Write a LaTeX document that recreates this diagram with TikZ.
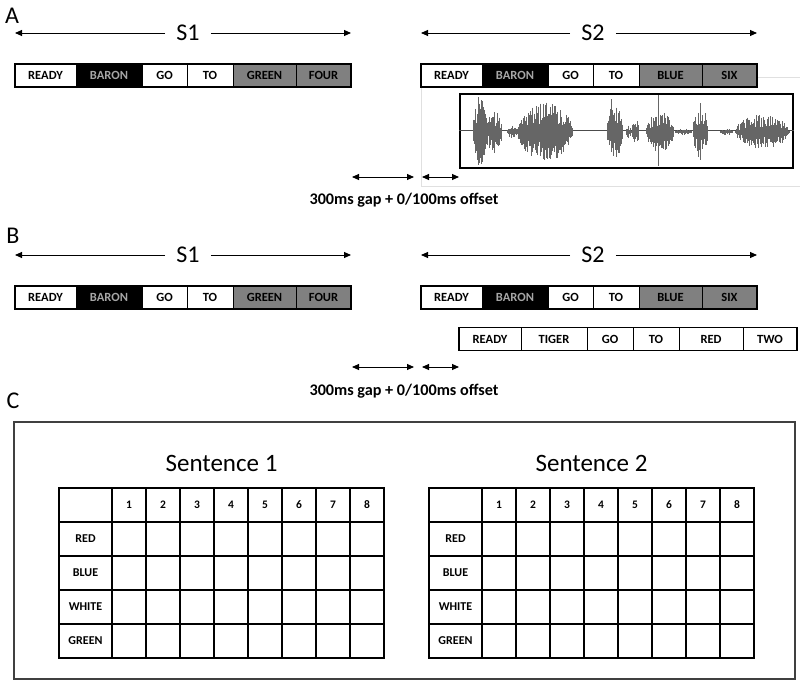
\documentclass[tikz,border=0pt]{standalone}
\usepackage{fontspec}
\setmainfont{Carlito}
\usetikzlibrary{positioning,arrows.meta}

% one row of word boxes: name, left x, centre y, list word/width/fill/text colour
\newcommand\wordrow[4]{%
  \coordinate (#1-0) at (#2,#3);
  \foreach \wtxt/\ww/\fcol/\tcol [count=\i, remember=\i as \j (initially 0)] in {#4}
    \node[word, fill=\fcol, text=\tcol, minimum width=\ww pt, right=0pt of #1-\j] (#1-\i) {\wtxt};
  \draw[rowframe] (#1-1.north west) rectangle (#1-6.south east);
}

% response grid: name, left x, title
\newcommand\gridtable[3]{%
  \node[title] (#1-title) at (#2+162.5,463) {#3};
  \foreach \k in {0,...,5}
    \draw[gridline] (#2,488+34*\k) -- (#2+325,488+34*\k);
  \draw[gridline] (#2,488) -- (#2,658);
  \foreach \k in {0,...,8}
    \draw[gridline] (#2+53+34*\k,488) -- (#2+53+34*\k,658);
  \foreach \n in {1,...,8}
    \node[numlab] (#1-c\n) at (#2+36+34*\n,505) {\n};
  \foreach \r [count=\i] in {RED,BLUE,WHITE,GREEN}
    \node[rowlab] (#1-r\i) at (#2+26.5,505+34*\i) {\r};
}

% one burst of the waveform: start x, end x, amplitude
\newcommand\burst[3]{%
  \pgfmathsetmacro\xnext{#1+0.7}%
  \foreach \x in {#1,\xnext,...,#2} {%
    \pgfmathsetmacro\wenv{#3*sqrt(max(sin(180*(\x-#1)/(#2-#1)),0))}%
    \pgfmathsetmacro\hup{\wenv*(0.3+0.8*rnd)}%
    \pgfmathsetmacro\hdn{\wenv*(0.3+0.8*rnd)}%
    \draw[wave] (\x,132-\hup) -- (\x,132+\hdn);
  }}

\begin{document}
\begin{tikzpicture}[x=1pt, y=-1pt,
  word/.style={draw, line width=0.9pt, minimum height=23pt, inner sep=0pt, outer sep=0pt,
    font=\fontsize{12.5}{13}\selectfont\bfseries},
  rowframe/.style={draw, line width=1.5pt},
  slabel/.style={inner xsep=11pt, font=\fontsize{24}{28}\selectfont},
  panellab/.style={font=\fontsize{24}{28}\selectfont},
  gaptext/.style={font=\fontsize{16.2}{19}\selectfont\bfseries},
  span/.style={-{Triangle[length=7pt,width=6pt]}, line width=0.9pt},
  gaparr/.style={{Triangle[length=7pt,width=6pt]}-{Triangle[length=7pt,width=6pt]}, line width=0.9pt},
  wave/.style={black!60, line width=0.8pt},
  faint/.style={black!12, line width=0.6pt},
  title/.style={font=\fontsize{25}{29}\selectfont},
  numlab/.style={font=\fontsize{11.5}{13}\selectfont\bfseries},
  rowlab/.style={font=\fontsize{12}{13}\selectfont\bfseries},
  gridline/.style={line width=1.3pt, line cap=rect}]
  \useasboundingbox (0,0) rectangle (800,685);

  % ---- panel A ----
  \node[panellab] (lab-a) at (12,16) {A};
  \draw[faint] (421,87) -- (421,186) -- (800,186);
  \draw[faint] (757,77) -- (800,77);
  \wordrow{a1}{15}{75.5}{READY/61/white/black, BARON/66/black/black!35, GO/45/white/black,
    TO/46/white/black, GREEN/63/black!50/black, FOUR/55/black!50/black}
  \wordrow{a2}{421}{75.5}{READY/61/white/black, BARON/66/black/black!35, GO/45/white/black,
    TO/46/white/black, BLUE/63/black!50/black, SIX/55/black!50/black}
  \node[slabel] (a-s1) at (188,33) {S1};
  \node[slabel] (a-s2) at (593,33) {S2};
  \draw[span] (a-s1.west) -- (a1-0 |- a-s1);
  \draw[span] (a-s1.east) -- (a1-6.east |- a-s1);
  \draw[span] (a-s2.west) -- (a2-0 |- a-s2);
  \draw[span] (a-s2.east) -- (a2-6.east |- a-s2);

  % waveform of the second sentence
  \node[draw, line width=1.5pt, minimum width=333pt, minimum height=74pt, inner sep=0pt,
    anchor=north west] (wav) at (459,93) {};
  \draw[black!70, line width=0.6pt] (wav.west) -- (wav.east);
  \pgfmathsetseed{3}
  \burst{473}{488}{30}
  \burst{487}{502}{20}
  \burst{507}{517}{6}
  \burst{517}{573}{27}
  \burst{607}{623}{27}
  \burst{626}{631}{6}
  \burst{632}{639}{14}
  \burst{646}{674}{19}
  \burst{675}{692}{3}
  \burst{693}{708}{25}
  \burst{720}{733}{3}
  \burst{735}{789}{16}
  \draw[wave] (478,97) -- (478,165);
  \draw[wave] (481,101) -- (481,160);
  \draw[wave] (611,99) -- (611,152);
  \draw[wave] (658,95) -- (658,166);
  \draw[wave] (700,103) -- (700,160);

  \coordinate (ga1) at (352,177);
  \coordinate (ga2) at (414,177);
  \coordinate (ga3) at (422,177);
  \coordinate (ga4) at (459,177);
  \draw[gaparr] (ga1) -- (ga2);
  \draw[gaparr] (ga3) -- (ga4);
  \node[gaptext] (gap-a) at (404,200) {300ms gap + 0/100ms offset};

  % ---- panel B ----
  \node[panellab] (lab-b) at (13,236) {B};
  \wordrow{b1}{15}{297.5}{READY/61/white/black, BARON/66/black/black!35, GO/45/white/black,
    TO/46/white/black, GREEN/63/black!50/black, FOUR/55/black!50/black}
  \wordrow{b2}{421}{297.5}{READY/61/white/black, BARON/66/black/black!35, GO/45/white/black,
    TO/46/white/black, BLUE/63/black!50/black, SIX/55/black!50/black}
  \wordrow{b3}{459}{339}{READY/62/white/black, TIGER/66/white/black, GO/46/white/black,
    TO/46/white/black, RED/64/white/black, TWO/54/white/black}
  \node[slabel] (b-s1) at (188,255) {S1};
  \node[slabel] (b-s2) at (593,255) {S2};
  \draw[span] (b-s1.west) -- (b1-0 |- b-s1);
  \draw[span] (b-s1.east) -- (b1-6.east |- b-s1);
  \draw[span] (b-s2.west) -- (b2-0 |- b-s2);
  \draw[span] (b-s2.east) -- (b2-6.east |- b-s2);

  \coordinate (gb1) at (352,367);
  \coordinate (gb2) at (414,367);
  \coordinate (gb3) at (422,367);
  \coordinate (gb4) at (459,367);
  \draw[gaparr] (gb1) -- (gb2);
  \draw[gaparr] (gb3) -- (gb4);
  \node[gaptext] (gap-b) at (404,391) {300ms gap + 0/100ms offset};

  % ---- panel C ----
  \node[panellab] (lab-c) at (13,401) {C};
  \draw[black!75, line width=1.4pt] (14,422) rectangle (795,679);
  \gridtable{t1}{59}{Sentence 1}
  \gridtable{t2}{429}{Sentence 2}
\end{tikzpicture}
\end{document}
